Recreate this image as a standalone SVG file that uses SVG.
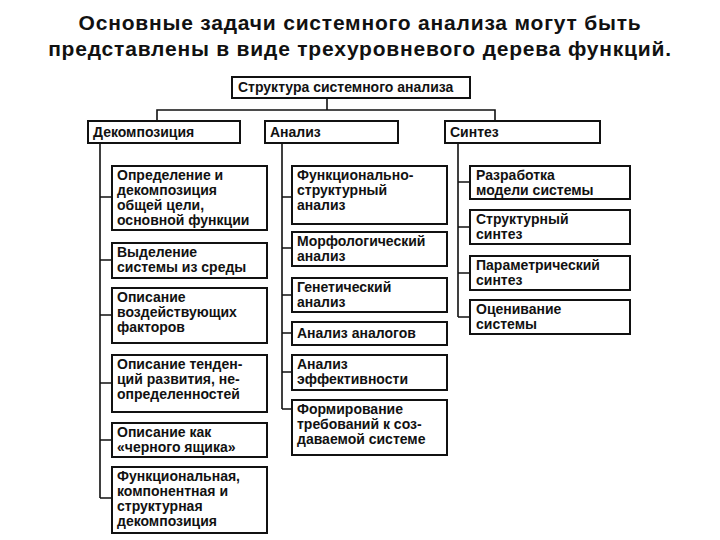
<svg xmlns="http://www.w3.org/2000/svg" width="720" height="540" viewBox="0 0 720 540">
<style>
.b{fill:#fff;stroke:#111;stroke-width:2}
.t{font-family:"Liberation Sans",Arial,sans-serif;font-weight:bold;font-size:14px;fill:#111}
.h{font-family:"Liberation Sans",Arial,sans-serif;font-weight:bold;font-size:21px;letter-spacing:0.8px;fill:#111;text-anchor:middle}
.c{fill:none;stroke:#111;stroke-width:1.6}
</style>
<rect width="720" height="540" fill="#fff"/>
<text class="h" x="360" y="30">Основные задачи системного анализа могут быть</text>
<text class="h" x="360" y="56">представлены в виде трехуровневого дерева функций.</text>
<g id="connectors">
<path class="c" d="M327 98V110M157 121V110H495V121"/>
<path class="c" d="M100 143V498M100 197H112M100 260H112M100 315H112M100 383H112M100 440H112M100 498H112"/>
<path class="c" d="M282 143V409M282 197H292M282 248H292M282 295H292M282 333H292M282 372H292M282 409H292"/>
<path class="c" d="M458 143V317M458 182H470M458 227H470M458 273H470M458 317H470"/>
</g>
<g id="root"><rect class="b" x="232" y="77" width="238" height="21"/><text class="t" x="238" y="92">Структура системного анализа</text></g>
<g id="dek"><rect class="b" x="88" y="121" width="152" height="22"/><text class="t" x="93" y="137">Декомпозиция</text></g>
<g id="an"><rect class="b" x="265" y="121" width="133" height="22"/><text class="t" x="270" y="137">Анализ</text></g>
<g id="sin"><rect class="b" x="445" y="121" width="155" height="22"/><text class="t" x="450" y="137">Синтез</text></g>
<g id="d1"><rect class="b" x="112" y="166" width="155" height="64"/><text class="t" x="117" y="180">Определение и<tspan x="117" dy="15">декомпозиция</tspan><tspan x="117" dy="15">общей цели,</tspan><tspan x="117" dy="15">основной функции</tspan></text></g>
<g id="d2"><rect class="b" x="112" y="243" width="155" height="35"/><text class="t" x="117" y="257">Выделение<tspan x="117" dy="15">системы из среды</tspan></text></g>
<g id="d3"><rect class="b" x="112" y="288" width="155" height="55"/><text class="t" x="117" y="302">Описание<tspan x="117" dy="15">воздействующих</tspan><tspan x="117" dy="15">факторов</tspan></text></g>
<g id="d4"><rect class="b" x="112" y="355" width="155" height="57"/><text class="t" x="117" y="369">Описание тенден-<tspan x="117" dy="15">ций развития, не-</tspan><tspan x="117" dy="15">определенностей</tspan></text></g>
<g id="d5"><rect class="b" x="112" y="423" width="155" height="34"/><text class="t" x="117" y="437">Описание как<tspan x="117" dy="15">«черного ящика»</tspan></text></g>
<g id="d6"><rect class="b" x="112" y="467" width="155" height="66"/><text class="t" x="117" y="481">Функциональная,<tspan x="117" dy="15">компонентная и</tspan><tspan x="117" dy="15">структурная</tspan><tspan x="117" dy="15">декомпозиция</tspan></text></g>
<g id="a1"><rect class="b" x="292" y="166" width="155" height="58"/><text class="t" x="297" y="180">Функционально-<tspan x="297" dy="15">структурный</tspan><tspan x="297" dy="15">анализ</tspan></text></g>
<g id="a2"><rect class="b" x="292" y="232" width="155" height="34"/><text class="t" x="297" y="246">Морфологический<tspan x="297" dy="15">анализ</tspan></text></g>
<g id="a3"><rect class="b" x="292" y="278" width="155" height="34"/><text class="t" x="297" y="292">Генетический<tspan x="297" dy="15">анализ</tspan></text></g>
<g id="a4"><rect class="b" x="292" y="322" width="155" height="23"/><text class="t" x="297" y="338">Анализ аналогов</text></g>
<g id="a5"><rect class="b" x="292" y="355" width="155" height="35"/><text class="t" x="297" y="369">Анализ<tspan x="297" dy="15">эффективности</tspan></text></g>
<g id="a6"><rect class="b" x="292" y="400" width="155" height="55"/><text class="t" x="297" y="414">Формирование<tspan x="297" dy="15">требований к соз-</tspan><tspan x="297" dy="15">даваемой системе</tspan></text></g>
<g id="s1"><rect class="b" x="470" y="166" width="160" height="33"/><text class="t" x="476" y="180">Разработка<tspan x="476" dy="15">модели системы</tspan></text></g>
<g id="s2"><rect class="b" x="470" y="210" width="160" height="34"/><text class="t" x="476" y="224">Структурный<tspan x="476" dy="15">синтез</tspan></text></g>
<g id="s3"><rect class="b" x="470" y="256" width="160" height="34"/><text class="t" x="476" y="270">Параметрический<tspan x="476" dy="15">синтез</tspan></text></g>
<g id="s4"><rect class="b" x="470" y="300" width="160" height="34"/><text class="t" x="476" y="314">Оценивание<tspan x="476" dy="15">системы</tspan></text></g>
</svg>
